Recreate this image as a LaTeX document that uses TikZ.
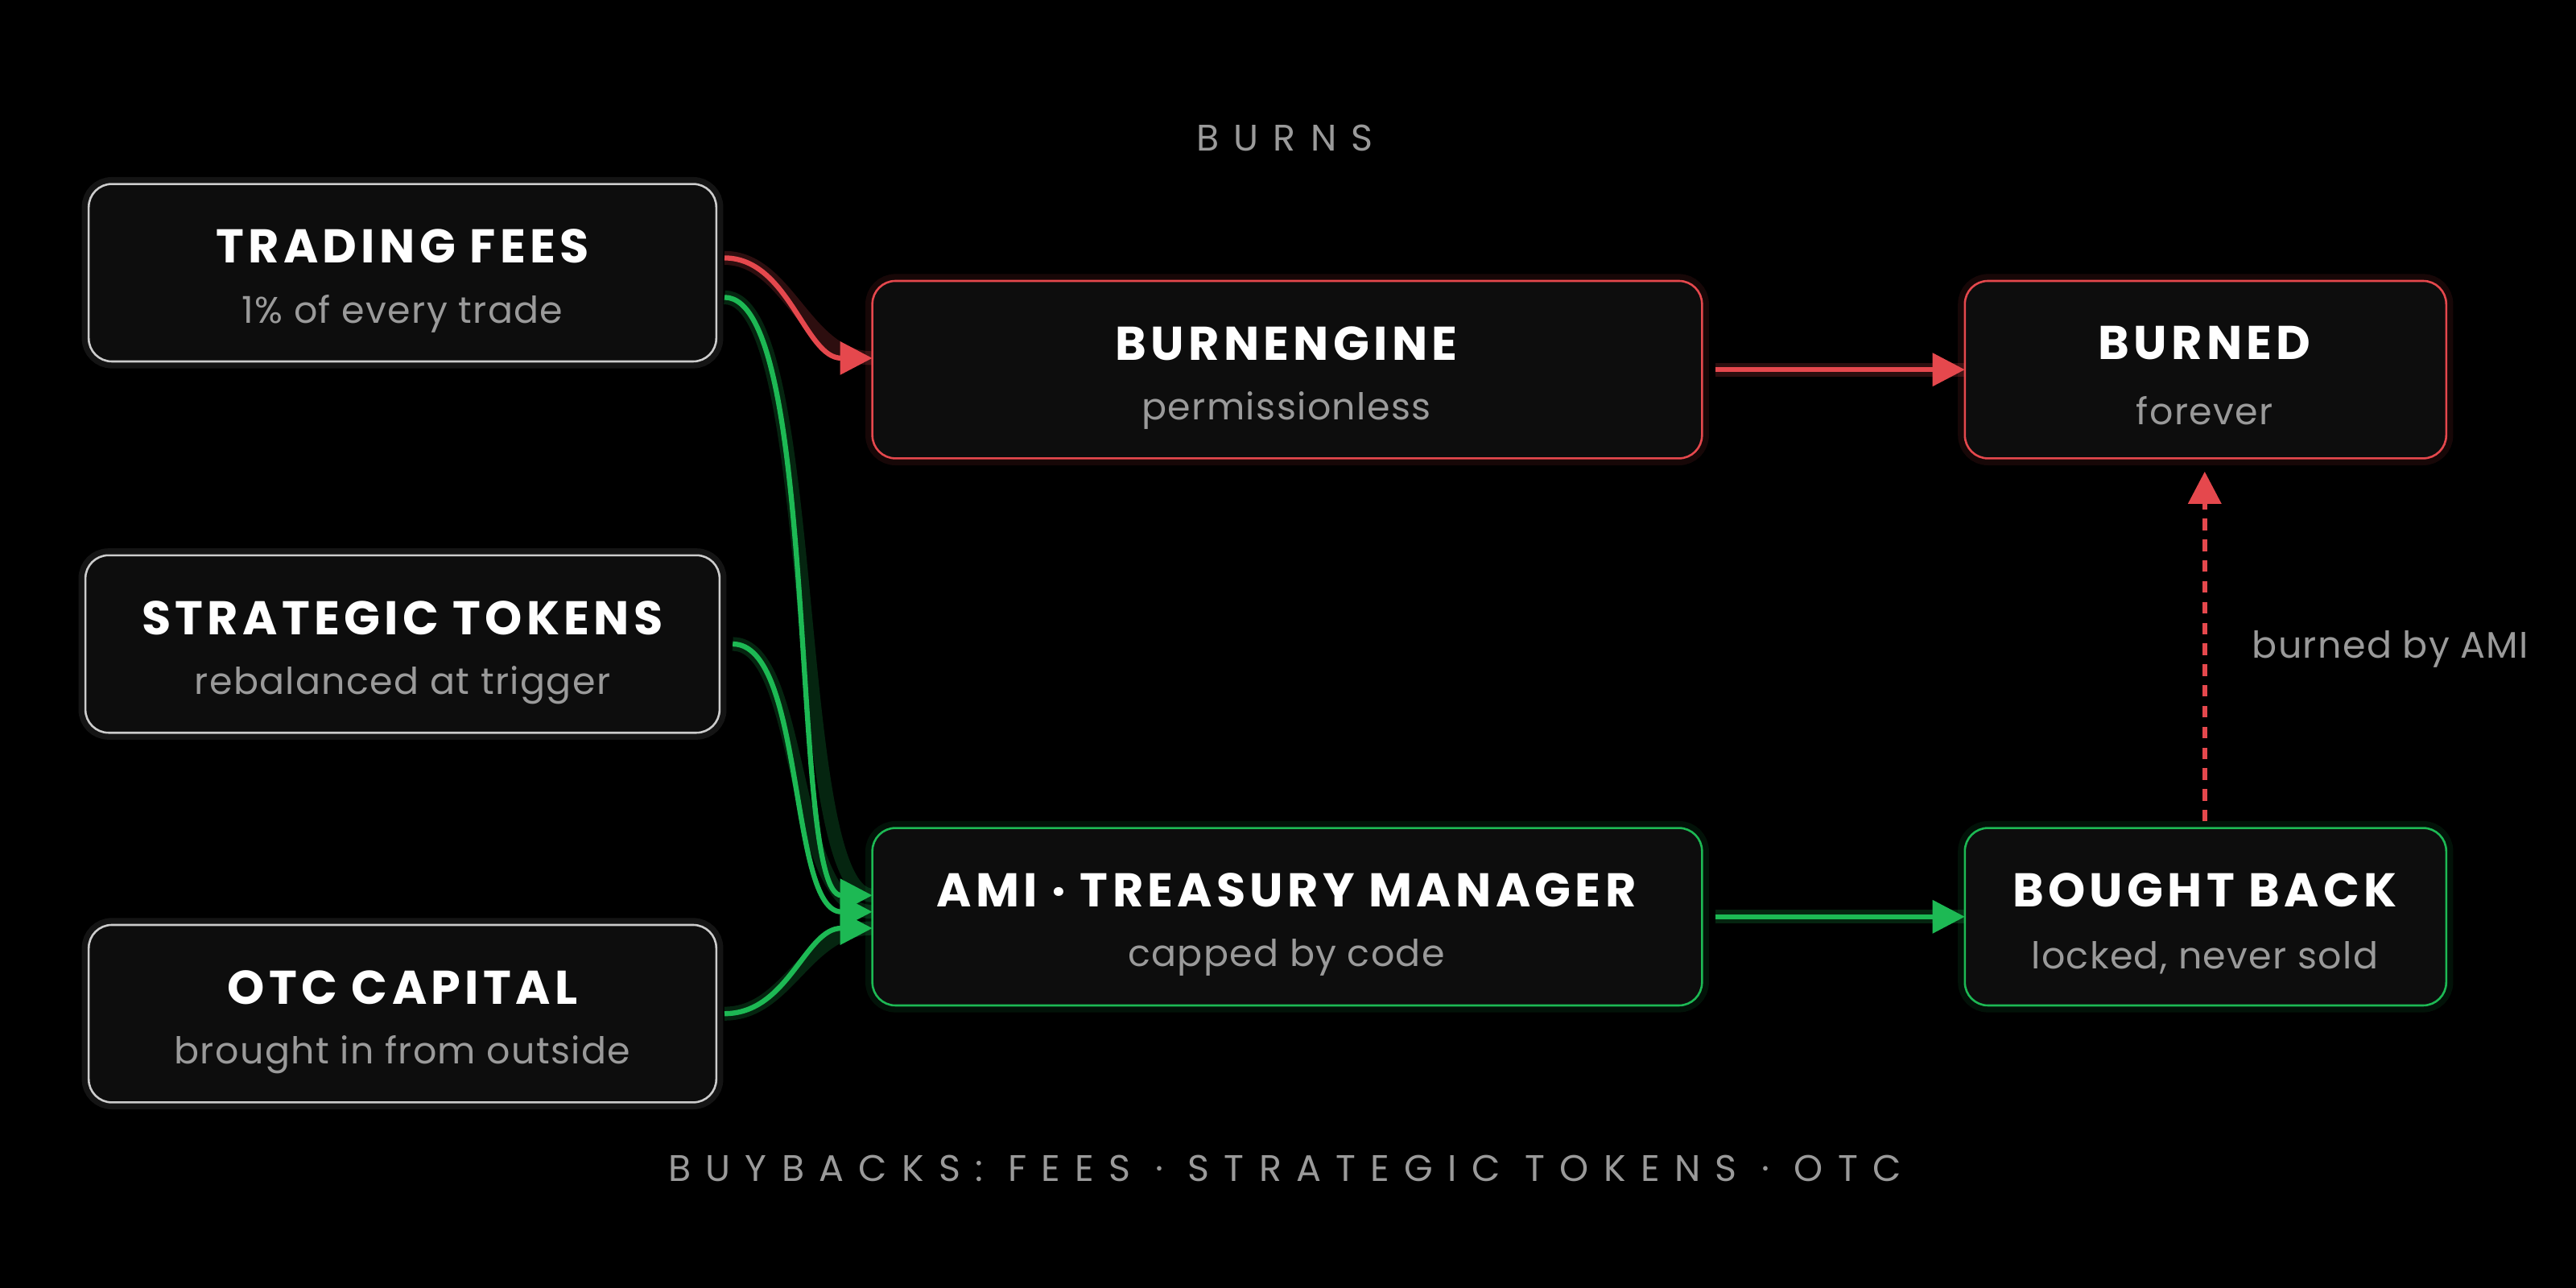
\documentclass[tikz,border=0pt]{standalone}
\usepackage{fontspec}
\setmainfont{Poppins}
\usetikzlibrary{arrows.meta}
\definecolor{bred}{HTML}{E5484D}
\definecolor{bgreen}{HTML}{1DB954}
\definecolor{bfill}{HTML}{0D0D0D}
\definecolor{sub}{HTML}{9A9A9A}
\begin{document}
\begin{tikzpicture}[x=0.025cm,y=-0.025cm,
  box/.style={draw=#1,line width=0.9pt,fill=bfill,rounded corners=10pt},
  title/.style={text=white,font=\fontsize{20.5}{24}\selectfont\bfseries\addfontfeatures{LetterSpace=9}},
  subt/.style={text=sub,font=\fontsize{16}{19}\selectfont\addfontfeatures{LetterSpace=3}},
  caption/.style={text=sub,font=\fontsize{16}{20}\selectfont\addfontfeatures{LetterSpace=40}},
  rarr/.style={draw=bred,line width=2.2pt,-{Triangle[length=14pt,width=14pt]}},
  garr/.style={draw=bgreen,line width=2.2pt,-{Triangle[length=14pt,width=14pt]}}]
\fill[black] (0,0) rectangle (1568,784);
\useasboundingbox (0,0) rectangle (1568,784);
\node[caption] (burns) at (782,84) {BURNS};
\node[caption] (buy) at (782,711) {BUYBACKS: FEES · STRATEGIC TOKENS · OTC};
% boxes
\foreach \n/\a/\b/\c/\d/\col in {tf/54/112/436/220/white!80!black, st/52/338/438/446/white!80!black, otc/54/563/436/671/white!80!black, be/531/171/1036/279/bred, bu/1196/171/1489/279/bred, ami/531/504/1036/612/bgreen, bb/1196/504/1489/612/bgreen}{
  \draw[\col,opacity=0.1,line width=6pt,rounded corners=10pt] (\a,\b) rectangle (\c,\d);
  \draw[box=\col] (\a,\b) rectangle (\c,\d) node[pos=0.5] (\n) {};
}
\node[title] (t1) at (245,150) {TRADING FEES};
\node[subt] (s1) at (245,191) {1\% of every trade};
\node[title] (t2) at (245,376) {STRATEGIC TOKENS};
\node[subt] (s2) at (245,417) {rebalanced at trigger};
\node[title] (t3) at (245,601) {OTC CAPITAL};
\node[subt] (s3) at (245,642) {brought in from outside};
\node[title] (t4) at (783,209) {BURNENGINE};
\node[subt] (s4) at (783,250) {permissionless};
\node[title] (t5) at (1342,209) {BURNED};
\node[subt] (s5) at (1342,250) {forever};
\node[title] (t6) at (783,542) {AMI · TREASURY MANAGER};
\node[subt] (s6) at (783,583) {capped by code};
\node[title] (t7) at (1342,542) {BOUGHT BACK};
\node[subt] (s7) at (1342,583) {locked, never sold};
\node[subt] (lab) at (1455,395) {burned by AMI};
% anchors
\coordinate (a1) at (441,157); \coordinate (b1) at (531,218);
\coordinate (a2) at (441,181); \coordinate (b2) at (531,545);
\coordinate (a3) at (446,392); \coordinate (b3) at (531,555);
\coordinate (a4) at (441,617); \coordinate (b4) at (531,565);
\coordinate (a5) at (1044,225); \coordinate (b5) at (1196,225);
\coordinate (a6) at (1044,558); \coordinate (b6) at (1196,558);
\coordinate (a7) at (1342,500); \coordinate (b7) at (1342,287);
\begin{scope}[opacity=0.2,line width=6pt]
\draw[bred] (a1) .. controls (480,157) and (490,218) .. (b1);
\draw[bgreen] (a2) .. controls (500,181) and (480,545) .. (b2);
\draw[bgreen] (a3) .. controls (490,392) and (480,555) .. (b3);
\draw[bgreen] (a4) .. controls (480,617) and (490,565) .. (b4);
\draw[bred] (a5) -- (b5);
\draw[bgreen] (a6) -- (b6);
\end{scope}
\draw[rarr] (a1) .. controls (480,157) and (490,218) .. (b1);
\draw[garr] (a2) .. controls (500,181) and (480,545) .. (b2);
\draw[garr] (a3) .. controls (490,392) and (480,555) .. (b3);
\draw[garr] (a4) .. controls (480,617) and (490,565) .. (b4);
\draw[rarr] (a5) -- (b5);
\draw[garr] (a6) -- (b6);
\draw[rarr,dashed,dash pattern=on 5pt off 4pt] (a7) -- (b7);
\end{tikzpicture}
\end{document}
